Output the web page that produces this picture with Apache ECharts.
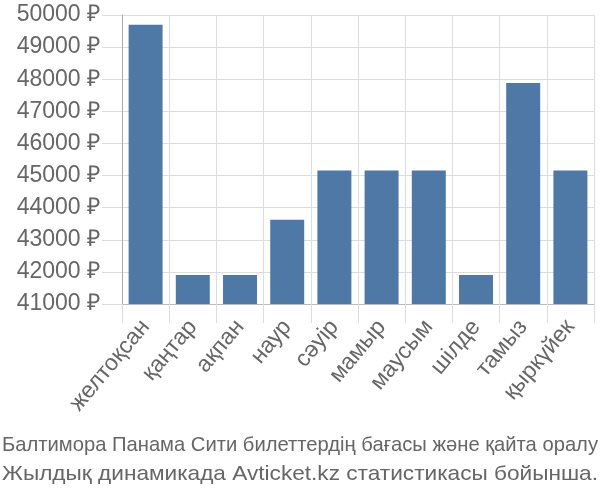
<!DOCTYPE html>
<html>
<head>
<meta charset="utf-8">
<script src="https://cdn.jsdelivr.net/npm/echarts@6/dist/echarts.min.js"></script>
<style>html,body{margin:0;padding:0;background:#fff}#c{width:600px;height:500px}</style>
</head>
<body>
<div id="c"></div>
<script>
const categories = ['желтоқсан','қаңтар','ақпан','наур','сәуір','мамыр','маусым','шілде','тамыз','қыркүйек'];
const prices = [49700, 41900, 41900, 43620, 45160, 45160, 45160, 41900, 47880, 45160];
const yMin = 41000, yMax = 50000, yStep = 1000;
const captionLines = ['Балтимора Панама Сити билеттердің бағасы және қайта оралу', 'Жылдық динамикада Avticket.kz статистикасы бойынша.'];

const FONT = "'Liberation Sans', Arial, sans-serif";
const CAP_FONT = "21px 'Liberation Sans Narrow', 'Liberation Sans', sans-serif";
const ctx = document.createElement('canvas').getContext('2d');
ctx.font = CAP_FONT;
const captionY = [445.5, 474.5];
const captionGraphics = captionLines.map(function (t, i) {
  const w = ctx.measureText(t).width;
  return {
    type: 'text',
    x: 300, y: captionY[i],
    scaleX: 596 / w,
    style: {text: t, x: 0, y: 0, font: CAP_FONT, fill: '#666', textAlign: 'center', textVerticalAlign: 'middle'}
  };
});

const chart = echarts.init(document.getElementById('c'), null, {renderer: 'canvas'});
chart.setOption({
  animation: false,
  graphic: captionGraphics,
  grid: {left: 122, right: 6, top: 15, bottom: 196, containLabel: false},
  xAxis: {
    type: 'category',
    data: categories,
    axisLine: {show: true, lineStyle: {color: '#bbb', width: 1}},
    axisTick: {show: true, length: 19, lineStyle: {color: '#ddd', width: 1}},
    splitLine: {show: true, lineStyle: {color: '#ddd', width: 1}},
    axisLabel: {rotate: 50, fontSize: 23, color: '#666', margin: 19, fontFamily: FONT}
  },
  yAxis: {
    type: 'value',
    min: yMin, max: yMax, interval: yStep,
    axisLine: {show: true, lineStyle: {color: '#aaa', width: 1}},
    axisTick: {show: true, length: 20, lineStyle: {color: '#ddd', width: 1}},
    splitLine: {show: true, lineStyle: {color: '#ddd', width: 1}},
    axisLabel: {formatter: function (v) { return v + ' ₽'; }, fontSize: 23, color: '#666', margin: 22, fontFamily: FONT}
  },
  series: [{
    type: 'bar',
    data: prices,
    barCategoryGap: '28%',
    itemStyle: {color: '#4e79a7'}
  }]
});
</script>
</body>
</html>
